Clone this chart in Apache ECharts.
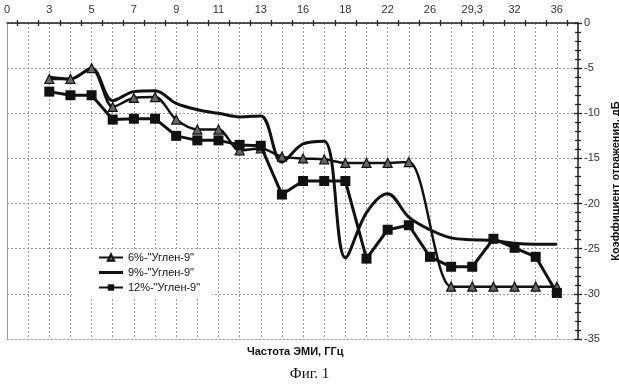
<!DOCTYPE html>
<html><head><meta charset="utf-8">
<script src="https://cdn.jsdelivr.net/npm/echarts@6/dist/echarts.min.js"></script>
<style>html,body{margin:0;padding:0;background:#fff}#c{width:619px;height:384px}</style>
</head><body><div id="c"></div>
<script>
const xLabels = ['0','','3','','5','','7','','9','','11','','13','','16','','18','','22','','26','','29,3','','32','','36',''];
const tickSlots = Array.from({length: 27}, (_, i) => 't' + i);
const s6 = [null,null,-6.2,-6.2,-5.0,-9.3,-8.3,-8.2,-10.7,-11.8,-11.8,-14.1,-13.9,-14.8,-15.0,-15.1,-15.5,-15.5,-15.5,-15.4,null,-29.2,-29.2,-29.2,-29.2,-29.2,-29.2,null];
const s9 = [null,null,-6.0,-6.2,-5.0,-8.6,-7.6,-7.5,-8.9,-9.6,-10.0,-10.4,-10.3,-15.4,-13.4,-13.1,-26.0,-21.0,-18.9,-21.5,-22.9,-23.8,-24.0,-24.1,-24.4,-24.5,-24.5,null];
const s12 = [null,null,-7.6,-8.0,-8.0,-10.7,-10.6,-10.6,-12.5,-13.0,-13.0,-13.5,-13.6,-19.0,-17.5,-17.5,-17.5,-26.1,-22.9,-22.4,-25.9,-27.0,-27.0,-23.9,-24.9,-25.9,-29.9,null];
const names = ['6%-"Углен-9"', '9%-"Углен-9"', '12%-"Углен-9"'];
const xTitle = 'Частота ЭМИ, ГГц';
const yTitle = 'Коэффициент отражения, дБ';
const figCaption = 'Фиг. 1';

const chart = echarts.init(document.getElementById('c'));
const gridCol = '#9a9a9a';
chart.setOption({
  animation: false,
  backgroundColor: '#fff',
  grid: {left: 7, right: 41, top: 23, bottom: 45, show: false, outerBoundsMode: 'none', containLabel: false},
  legend: {
    left: 72, top: 249, orient: 'vertical',
    backgroundColor: '#fff', padding: [3, 12, 4, 26],
    itemWidth: 24, itemHeight: 8, itemGap: 4, symbolKeepAspect: true,
    textStyle: {fontFamily: 'Liberation Sans', fontSize: 11, color: '#111'},
    data: [{name: names[0]}, {name: names[1], icon: 'path://M0,0L24,0L24,3L0,3Z'}, {name: names[2]}]
  },
  xAxis: [
    {type: 'category', position: 'top', data: xLabels, boundaryGap: false,
     axisLine: {lineStyle: {color: '#222', width: 1.5}},
     axisTick: {show: false},
     axisLabel: {interval: 0, margin: 8, fontFamily: 'Liberation Sans', fontSize: 11, color: '#333'},
     splitLine: {show: true, lineStyle: {color: gridCol, type: [2, 2], width: 1}}},
    {type: 'category', position: 'top', data: tickSlots, boundaryGap: true,
     axisLine: {show: false}, axisLabel: {show: false}, splitLine: {show: false},
     axisTick: {show: true, alignWithLabel: true, interval: 0, length: 3, lineStyle: {color: '#222', width: 1.3}}},
    {type: 'category', position: 'top', data: tickSlots, boundaryGap: true,
     axisLine: {show: false}, axisLabel: {show: false}, splitLine: {show: false},
     axisTick: {show: true, inside: true, alignWithLabel: true, interval: 0, length: 3, lineStyle: {color: '#222', width: 1.3}}},
    {type: 'category', position: 'bottom', data: xLabels, boundaryGap: false,
     axisLine: {show: true, lineStyle: {color: gridCol, type: [2, 2]}},
     axisTick: {show: false}, axisLabel: {show: false}, splitLine: {show: false}}
  ],
  yAxis: [
    {type: 'value', position: 'right', min: -35, max: 0, interval: 5,
     name: yTitle, nameLocation: 'middle', nameRotate: 90, nameGap: 28,
     nameTextStyle: {fontFamily: 'Liberation Sans', fontSize: 11, fontWeight: 'bold', color: '#111'},
     axisLine: {show: true, lineStyle: {color: '#222', width: 1.5}},
     axisTick: {show: true, length: 4, lineStyle: {color: '#222', width: 1.3}},
     minorTick: {show: true, splitNumber: 5, length: 3, lineStyle: {color: '#222', width: 1.3}},
     axisLabel: {margin: 6, fontFamily: 'Liberation Sans', fontSize: 11, color: '#333'},
     splitLine: {show: true, lineStyle: {color: gridCol, type: [2, 2], width: 1}}},
    {type: 'value', position: 'right', min: -35, max: 0, interval: 5,
     axisLine: {show: false}, axisLabel: {show: false}, splitLine: {show: false},
     axisTick: {show: true, inside: true, length: 4, lineStyle: {color: '#222', width: 1.3}},
     minorTick: {show: true, splitNumber: 5, length: 3, lineStyle: {color: '#222', width: 1.3}}},
    {type: 'value', position: 'left', min: -35, max: 0, interval: 5,
     axisLine: {show: true, lineStyle: {color: gridCol, type: [2, 2]}},
     axisTick: {show: false}, axisLabel: {show: false}, splitLine: {show: false}}
  ],
  series: [
    {name: names[0], type: 'line', data: s6, smooth: 0.3, connectNulls: true,
     symbol: 'triangle', symbolSize: 9,
     lineStyle: {color: '#111', width: 2.5},
     itemStyle: {color: '#666', borderColor: '#111', borderWidth: 1.2}, z: 3},
    {name: names[1], type: 'line', data: s9, smooth: 0.35, connectNulls: true,
     symbol: 'none', lineStyle: {color: '#111', width: 3},
     itemStyle: {color: '#111'}, z: 2},
    {name: names[2], type: 'line', data: s12, smooth: false,
     symbol: 'rect', symbolSize: 10,
     lineStyle: {color: '#111', width: 3},
     itemStyle: {color: '#111'}, z: 4}
  ],
  graphic: [
    {type: 'text', left: 247, top: 346, style: {text: xTitle, fontFamily: 'Liberation Sans', fontSize: 11, fontWeight: 'bold', fill: '#111'}},
    {type: 'text', left: 'center', top: 367, style: {text: figCaption, fontFamily: 'Liberation Serif', fontSize: 15, fill: '#111'}}
  ]
});
</script></body></html>
